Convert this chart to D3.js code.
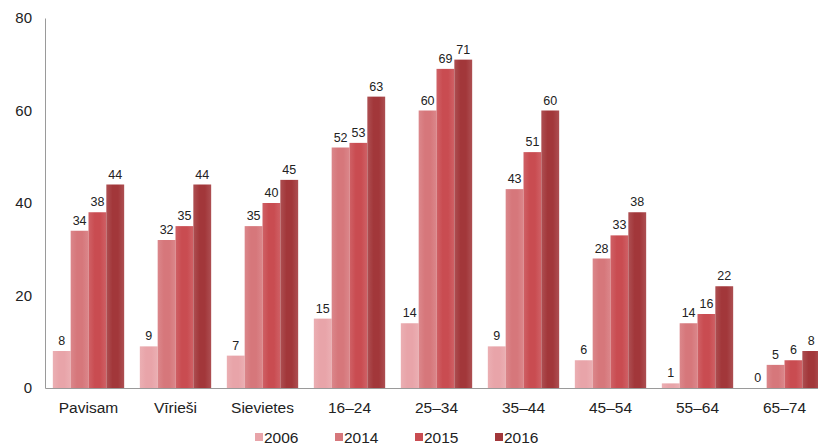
<!DOCTYPE html>
<html>
<head>
<meta charset="utf-8">
<script src="https://cdn.jsdelivr.net/npm/d3@7"></script>
<style>
  body { margin: 0; background: #fff; }
  svg { display: block; font-family: "Liberation Sans", Arial, sans-serif; }
</style>
</head>
<body>
<div id="chart"></div>
<script>
const categories = ['Pavisam', 'Vīrieši', 'Sievietes', '16–24', '25–34', '35–44', '45–54', '55–64', '65–74'];
const years = ['2006', '2014', '2015', '2016'];
const values2006 = [8, 9, 7, 15, 14, 9, 6, 1, 0];
const values2014 = [34, 32, 35, 52, 60, 43, 28, 14, 5];
const values2015 = [38, 35, 40, 53, 69, 51, 33, 16, 6];
const values2016 = [44, 44, 45, 63, 71, 60, 38, 22, 8];
const yTicks = [0, 20, 40, 60, 80];

const colors = ['#e8a4a9', '#d6777b', '#c94c51', '#a2373a'];
const series = [values2006, values2014, values2015, values2016];

const width = 818, height = 446;
const svg = d3.select('#chart').append('svg')
    .attr('width', width)
    .attr('height', height);

// soft edge shading on the bars
const defs = svg.append('defs');
colors.forEach((c, i) => {
    const g = defs.append('linearGradient').attr('id', 'grad' + i)
        .attr('x1', '0%').attr('x2', '100%').attr('y1', '0%').attr('y2', '0%');
    const light = d3.interpolateRgb(c, '#ffffff')(0.12);
    g.append('stop').attr('offset', '0%').attr('stop-color', light);
    g.append('stop').attr('offset', '35%').attr('stop-color', c);
    g.append('stop').attr('offset', '65%').attr('stop-color', c);
    g.append('stop').attr('offset', '100%').attr('stop-color', light);
});

const axisX = 45, axisTop = 18, axisBottom = 388;

const x0 = d3.scaleBand()
    .domain(categories)
    .range([axisX, 828])
    .paddingInner(0.18)
    .paddingOuter(0.09);

const x1 = d3.scaleBand()
    .domain(years)
    .range([0, x0.bandwidth()]);

const y = d3.scaleLinear()
    .domain([0, 80])
    .range([axisBottom, axisTop]);

// bars
const groups = svg.append('g').selectAll('g')
    .data(categories)
    .join('g')
    .attr('transform', d => `translate(${x0(d)},0)`);

groups.selectAll('rect')
    .data((d, i) => years.map((yr, j) => ({ year: yr, idx: j, value: series[j][i] })))
    .join('rect')
    .attr('x', d => x1(d.year))
    .attr('y', d => y(d.value))
    .attr('width', x1.bandwidth())
    .attr('height', d => axisBottom - y(d.value))
    .attr('fill', d => `url(#grad${d.idx})`);

groups.selectAll('text')
    .data((d, i) => years.map((yr, j) => ({ year: yr, value: series[j][i] })))
    .join('text')
    .attr('x', d => x1(d.year) + x1.bandwidth() / 2)
    .attr('y', d => y(d.value) - 6)
    .attr('text-anchor', 'middle')
    .style('font-size', '12.5px')
    .style('fill', '#222')
    .text(d => d.value);

// y axis
const yAxis = svg.append('g')
    .attr('transform', `translate(${axisX},0)`)
    .call(d3.axisLeft(y).tickValues(yTicks).tickSize(0).tickPadding(13));
yAxis.select('.domain').attr('stroke', '#9a9a9a');
yAxis.selectAll('text').style('font-size', '15px').style('fill', '#222');

// x axis
const xAxis = svg.append('g')
    .attr('transform', `translate(0,${axisBottom})`)
    .call(d3.axisBottom(x0).tickSize(0).tickPadding(14));
xAxis.select('.domain').attr('stroke', '#9a9a9a');
xAxis.selectAll('text').style('font-size', '15.5px').style('fill', '#222');

// legend
const legendX = d3.scalePoint()
    .domain(years)
    .range([255, 495]);

const legend = svg.append('g').selectAll('g')
    .data(years)
    .join('g')
    .attr('transform', d => `translate(${legendX(d)},437)`);

legend.append('rect')
    .attr('x', 0)
    .attr('y', -4)
    .attr('width', 8)
    .attr('height', 8)
    .attr('fill', (d, i) => colors[i]);

legend.append('text')
    .attr('x', 9)
    .attr('y', 5.5)
    .style('font-size', '15.5px')
    .style('fill', '#222')
    .text(d => d);
</script>
</body>
</html>
